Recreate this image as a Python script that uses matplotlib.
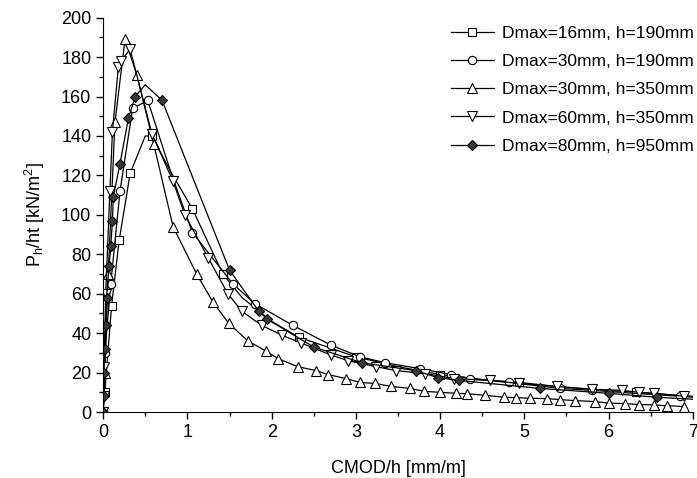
import matplotlib
matplotlib.use("Agg")
import matplotlib.pyplot as plt

plt.rcParams['font.family'] = ['Liberation Sans', 'DejaVu Sans']

# Dmax=16mm, h=190mm (squares)
sq_x = [0, 0.02, 0.1, 0.19, 0.32, 0.5, 0.58, 0.8, 1.06, 1.42, 1.65, 2.0, 2.32,
        3.0, 3.5, 4.0, 4.5, 4.94, 5.5, 6.0, 6.33, 7.0]
sq_y = [0, 10, 54, 87, 121, 140, 140, 122, 103, 70, 58, 46, 38,
        28, 23, 19, 16.5, 15, 12.5, 11, 10, 8]
sq_marks = [1, 2, 3, 4, 6, 8, 9, 12, 13, 15, 17, 20]

# Dmax=30mm, h=190mm (circles)
ci_x = [0, 0.02, 0.09, 0.2, 0.35, 0.53, 0.8, 1.06, 1.54, 1.8, 2.25, 2.7, 3.05,
        3.35, 3.76, 4.13, 4.36, 4.82, 5.42, 5.8, 6.3, 6.85, 7.0]
ci_y = [0, 30, 65, 112, 154, 158, 122, 91, 65, 55, 44, 34, 28,
        25, 22, 19, 17, 15, 12, 11, 9.5, 8, 7.5]
ci_marks = [1, 2, 3, 4, 5, 7, 8, 9, 10, 11, 12, 13, 14, 15, 16, 17, 18, 19, 21]

# Dmax=30mm, h=350mm (up triangles)
tu_x = [0, 0.02, 0.06, 0.14, 0.26, 0.4, 0.6, 0.83, 1.11, 1.3, 1.49, 1.72, 1.93,
        2.08, 2.31, 2.53, 2.67, 2.88, 3.05, 3.23, 3.42, 3.64, 3.81, 4.0, 4.19,
        4.32, 4.53, 4.76, 4.9, 5.07, 5.27, 5.42, 5.6, 5.84, 6.01, 6.19, 6.36,
        6.54, 6.69, 6.9]
tu_y = [0, 20, 70, 147, 189, 171, 136, 94, 70, 56, 45, 36, 31,
        27, 23, 21, 19, 17, 15, 14.5, 13, 12, 10.5, 10, 9.5,
        9.3, 8.5, 7.5, 7.3, 7, 6.8, 6.3, 5.8, 5.3, 4.5, 4.3, 3.8,
        3.6, 3.2, 2.8]

# Dmax=60mm, h=350mm (down triangles)
td_x = [0, 0.005, 0.01, 0.03, 0.08, 0.11, 0.18, 0.21, 0.32, 0.58, 0.83, 0.97,
        1.25, 1.48, 1.65, 1.88, 2.12, 2.35, 2.7, 2.91, 3.24, 3.48, 3.82, 4.17,
        4.59, 4.94, 5.39, 5.8, 6.16, 6.36, 6.54, 6.9]
td_y = [0, 8, 23, 60, 112, 142, 175, 178, 184, 141, 117, 100,
        78, 60, 51, 44, 39, 35, 29, 26, 23, 21, 19.5, 17,
        16, 14.5, 13, 11.5, 11, 10, 9.5, 8]

# Dmax=80mm, h=950mm (filled diamonds)
di_x = [0, 0.005, 0.01, 0.02, 0.03, 0.04, 0.07, 0.09, 0.11, 0.12, 0.2, 0.3,
        0.38, 0.5, 0.7, 1.5, 1.85, 1.95, 2.5, 3.07, 3.71, 3.97, 4.23, 5.18,
        6.0, 6.57, 7.0]
di_y = [0, 8, 20, 32, 44, 58, 74, 84, 97, 109, 126, 149,
        160, 166, 158, 72, 51, 47, 33, 25, 21, 17.5, 16, 12,
        9.5, 7.5, 6.5]
di_marks = [0, 1, 2, 3, 4, 5, 6, 7, 8, 9, 10, 11, 12, 14, 15, 16, 17, 18, 19,
            20, 21, 22, 23, 24, 25]

labels = ["Dmax=16mm, h=190mm", "Dmax=30mm, h=190mm", "Dmax=30mm, h=350mm",
          "Dmax=60mm, h=350mm", "Dmax=80mm, h=950mm"]

fig = plt.figure(figsize=(6.97, 4.78), dpi=100)
ax = fig.add_axes([0.148, 0.138, 0.846, 0.825])

style = dict(color='black', lw=0.9, mec='black', mew=0.8)
ax.plot(sq_x, sq_y, marker='s', ms=5.5, mfc='white', markevery=sq_marks,
        label=labels[0], **style)
ax.plot(ci_x, ci_y, marker='o', ms=6, mfc='white', markevery=ci_marks,
        label=labels[1], **style)
ax.plot(tu_x, tu_y, marker='^', ms=6.5, mfc='white', label=labels[2], **style)
ax.plot(td_x, td_y, marker='v', ms=6.5, mfc='white', label=labels[3], **style)
ax.plot(di_x, di_y, marker='D', ms=5.5, mfc='#3a3a3a', markevery=di_marks,
        label=labels[4], **style)

ax.set_xlim(0, 7)
ax.set_ylim(0, 200)
ax.set_xticks(range(0, 8))
ax.set_xticks([i + 0.5 for i in range(7)], minor=True)
ax.set_yticks(range(0, 201, 20))
ax.set_yticks(range(10, 200, 20), minor=True)
ax.spines['top'].set_visible(False)
ax.spines['right'].set_visible(False)
ax.tick_params(which='major', direction='out', length=5, labelsize=13, width=1)
ax.tick_params(which='minor', direction='out', length=3, width=1)

ax.set_xlabel("CMOD/h [mm/m]", fontsize=13, labelpad=14)
ax.set_ylabel(r"P$_\mathregular{h}$/ht [kN/m$^\mathregular{2}$]", fontsize=13, labelpad=10)

ax.legend(loc='upper right', frameon=False, fontsize=12.5, handlelength=2.5,
          handletextpad=0.45, labelspacing=0.75, borderaxespad=0.3,
          bbox_to_anchor=(1.022, 1.01))

fig.savefig("out.png", dpi=100)
